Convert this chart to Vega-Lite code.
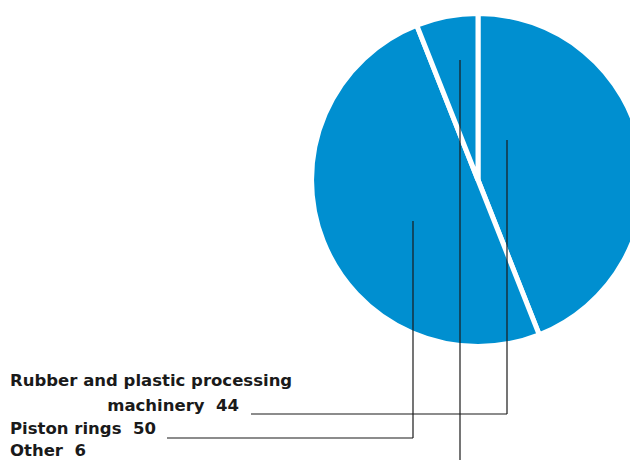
{
  "$schema": "https://vega.github.io/schema/vega-lite/v6.json",
  "width": 630,
  "height": 460,
  "autosize": {"type": "none"},
  "padding": 0,
  "background": "white",
  "config": {"view": {"stroke": null}},
  "datasets": {
    "shares": [
      {"category": "Rubber and plastic processing machinery", "share": 44},
      {"category": "Piston rings", "share": 50},
      {"category": "Other", "share": 6}
    ],
    "callouts": [
      {"category": "Rubber and plastic processing machinery", "head": "Rubber and plastic processing", "tail": "machinery", "headX": 10, "headY": 386, "textX": 239, "textY": 411, "lineX": 251, "lineY": 414, "tipX": 507, "tipY": 140},
      {"category": "Piston rings", "tail": "Piston rings", "textX": 10, "textY": 434, "lineX": 167, "lineY": 438, "tipX": 413, "tipY": 221},
      {"category": "Other", "tail": "Other", "textX": 10, "textY": 456, "lineX": 94, "lineY": 461, "tipX": 460, "tipY": 60}
    ]
  },
  "layer": [
    {
      "data": {"name": "shares"},
      "mark": {"type": "arc", "x": 478, "y": 180, "outerRadius": 166.5, "fill": "#008fd0", "stroke": "white", "strokeWidth": 5},
      "encoding": {
        "theta": {"field": "share", "type": "quantitative", "stack": true}
      }
    },
    {
      "data": {"name": "callouts"},
      "layer": [
        {
          "mark": {"type": "rule", "color": "#1a1a1a", "strokeWidth": 1.2},
          "encoding": {
            "x": {"field": "tipX", "type": "quantitative", "scale": {"domain": [0, 630], "nice": false, "zero": false}, "axis": null},
            "y": {"field": "tipY", "type": "quantitative", "scale": {"domain": [0, 460], "nice": false, "zero": false, "reverse": true}, "axis": null},
            "y2": {"field": "lineY"}
          }
        },
        {
          "mark": {"type": "rule", "color": "#1a1a1a", "strokeWidth": 1.2},
          "encoding": {
            "x": {"field": "lineX", "type": "quantitative"},
            "x2": {"field": "tipX"},
            "y": {"field": "lineY", "type": "quantitative"}
          }
        },
        {
          "transform": [{"filter": "isValid(datum.head)"}],
          "mark": {"type": "text", "align": "left", "baseline": "alphabetic", "font": "DejaVu Sans", "fontWeight": "bold", "fontSize": 16.5, "color": "#1a1a1a"},
          "encoding": {
            "x": {"field": "headX", "type": "quantitative"},
            "y": {"field": "headY", "type": "quantitative"},
            "text": {"field": "head"}
          }
        },
        {
          "transform": [
            {"lookup": "category", "from": {"data": {"name": "shares"}, "key": "category", "fields": ["share"]}},
            {"calculate": "datum.tail + '\u00a0\u00a0' + datum.share", "as": "label"},
            {"filter": "isValid(datum.head)"}
          ],
          "mark": {"type": "text", "align": "right", "baseline": "alphabetic", "font": "DejaVu Sans", "fontWeight": "bold", "fontSize": 16.5, "color": "#1a1a1a"},
          "encoding": {
            "x": {"field": "textX", "type": "quantitative"},
            "y": {"field": "textY", "type": "quantitative"},
            "text": {"field": "label"}
          }
        },
        {
          "transform": [
            {"lookup": "category", "from": {"data": {"name": "shares"}, "key": "category", "fields": ["share"]}},
            {"calculate": "datum.tail + '\u00a0\u00a0' + datum.share", "as": "label"},
            {"filter": "!isValid(datum.head)"}
          ],
          "mark": {"type": "text", "align": "left", "baseline": "alphabetic", "font": "DejaVu Sans", "fontWeight": "bold", "fontSize": 16.5, "color": "#1a1a1a"},
          "encoding": {
            "x": {"field": "textX", "type": "quantitative"},
            "y": {"field": "textY", "type": "quantitative"},
            "text": {"field": "label"}
          }
        }
      ]
    }
  ]
}
